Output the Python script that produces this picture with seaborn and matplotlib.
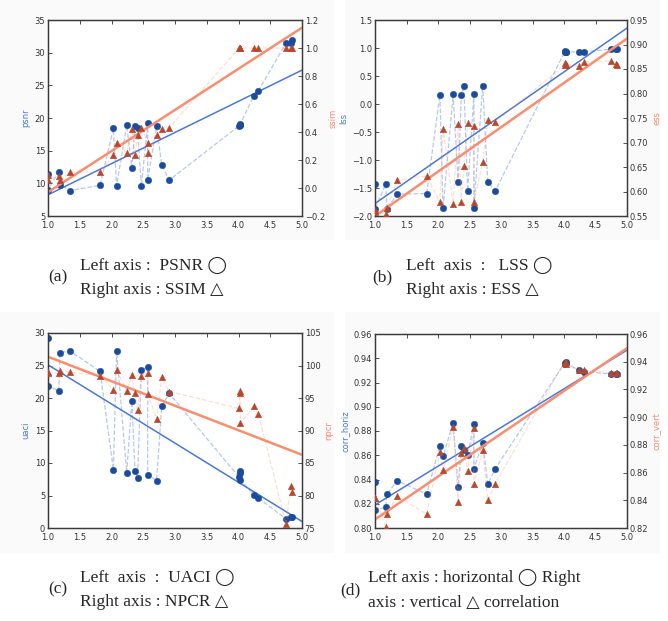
import matplotlib
matplotlib.use("Agg")
import matplotlib.pyplot as plt
import seaborn as sns
import pandas as pd
from matplotlib.patches import Rectangle

# ---------------- data ----------------
x_vals = [1.0, 1.0, 1.17, 1.19, 1.35, 1.82, 2.03, 2.08, 2.24, 2.32, 2.37, 2.41, 2.47,
          2.57, 2.57, 2.71, 2.79, 2.91, 4.01, 4.02, 4.03, 4.03, 4.24, 4.31, 4.75, 4.82, 4.84]

psnr = [11.4, 9.0, 11.8, 9.75, 8.9, 9.7, 18.4, 9.6, 18.9, 12.4, 18.7, 18.5, 9.55,
        19.2, 10.5, 18.7, 12.8, 10.5, 18.8, 19.0, 18.9, 19.1, 23.4, 24.1, 31.5, 31.5, 32.0]
ssim = [0.09, 0.06, 0.088, 0.057, 0.114, 0.114, 0.236, 0.324, 0.248, 0.424, 0.236, 0.379, 0.429,
        0.322, 0.248, 0.379, 0.424, 0.43, 1.0, 1.0, 1.0, 1.0, 1.0, 1.0, 1.0, 1.0, 1.0]

lss = [-1.43, -1.88, -1.43, -1.88, -1.61, -1.60, 0.16, -1.85, 0.17, -1.39, 0.16, 0.33, -1.55,
       0.18, -1.85, 0.33, -1.39, -1.55, 0.93, 0.94, 0.92, 0.93, 0.93, 0.93, 0.98, 0.98, 0.98]
ess = [0.562, 0.558, 0.555, 0.566, 0.623, 0.632, 0.578, 0.728, 0.575, 0.737, 0.579, 0.652, 0.739,
       0.734, 0.578, 0.661, 0.745, 0.742, 0.858, 0.863, 0.861, 0.858, 0.856, 0.865, 0.866, 0.860, 0.859]

uaci = [29.3, 21.9, 21.1, 27.0, 27.2, 24.1, 9.0, 27.2, 8.5, 19.5, 8.75, 7.7, 24.3,
        24.8, 8.2, 7.3, 18.7, 20.7, 7.8, 8.5, 8.8, 7.4, 5.1, 4.65, 1.4, 1.7, 1.7]
npcr = [99.0, 98.9, 98.8, 99.2, 99.0, 98.4, 96.3, 99.3, 96.1, 98.6, 95.7, 93.1, 98.4,
        98.9, 95.6, 91.8, 98.2, 96.0, 93.4, 95.7, 96.1, 91.1, 93.7, 92.6, 75.6, 81.5, 80.5]

corr_horiz = [0.838, 0.815, 0.817, 0.828, 0.839, 0.828, 0.868, 0.859, 0.887, 0.834, 0.868, 0.8645, 0.860,
              0.886, 0.849, 0.870, 0.836, 0.849, 0.936, 0.935, 0.937, 0.936, 0.930, 0.929, 0.927, 0.927, 0.927]
corr_vert = [0.842, 0.842, 0.821, 0.830, 0.843, 0.830, 0.875, 0.8615, 0.893, 0.839, 0.874, 0.878, 0.861,
             0.892, 0.852, 0.876, 0.840, 0.852, 0.940, 0.939, 0.940, 0.938, 0.934, 0.934, 0.932, 0.932, 0.932]

x_ticks = [1.0, 1.5, 2.0, 2.5, 3.0, 3.5, 4.0, 4.5, 5.0]

panels = [
    dict(left=psnr, right=ssim, lname="psnr", rname="ssim",
         lticks=[5, 10, 15, 20, 25, 30, 35], rticks=[-0.2, 0.0, 0.2, 0.4, 0.6, 0.8, 1.0, 1.2],
         lfmt="{:.0f}", rfmt="{:.1f}",
         tag="(a)", cap1="Left axis :  PSNR \u25EF", cap2="Right axis : SSIM \u25B3"),
    dict(left=lss, right=ess, lname="lss", rname="ess",
         lticks=[-2.0, -1.5, -1.0, -0.5, 0.0, 0.5, 1.0, 1.5],
         rticks=[0.55, 0.60, 0.65, 0.70, 0.75, 0.80, 0.85, 0.90, 0.95],
         lfmt="{:.1f}", rfmt="{:.2f}",
         tag="(b)", cap1="Left  axis  :   LSS \u25EF", cap2="Right axis : ESS \u25B3"),
    dict(left=uaci, right=npcr, lname="uaci", rname="npcr",
         lticks=[0, 5, 10, 15, 20, 25, 30], rticks=[75, 80, 85, 90, 95, 100, 105],
         lfmt="{:.0f}", rfmt="{:.0f}",
         tag="(c)", cap1="Left  axis  :  UACI \u25EF", cap2="Right axis : NPCR \u25B3"),
    dict(left=corr_horiz, right=corr_vert, lname="corr_horiz", rname="corr_vert",
         lticks=[0.80, 0.82, 0.84, 0.86, 0.88, 0.90, 0.92, 0.94, 0.96],
         rticks=[0.82, 0.84, 0.86, 0.88, 0.90, 0.92, 0.94, 0.96],
         lfmt="{:.2f}", rfmt="{:.2f}",
         tag="(d)", cap1="Left axis : horizontal \u25EF Right", cap2="axis : vertical \u25B3 correlation"),
]

# ---------------- style ----------------
sns.set_theme(style="white")
plt.rcParams['font.family'] = ['DejaVu Sans']

W, H = 668, 621
fig = plt.figure(figsize=(W / 100, H / 100), dpi=100)
fig.patch.set_facecolor("white")

# axes boxes in pixels: left, top, right, bottom
boxes = [(48, 20, 302, 216), (375, 20, 627, 216), (48, 333, 302, 528), (375, 334, 627, 528)]
bg_boxes = [(0, 0, 334, 240), (345, 0, 660, 240), (0, 312, 334, 553), (345, 312, 660, 553)]
caption_pos = [(48, 80), (372, 406), (48, 80), (340, 368)]
caption_y = [(265, 290), (265, 290), (577, 602), (577, 603)]

BLUE_LINE = "#4a78d4"
SALMON_LINE = "#f98d70"
BLUE_PT = "#1a4b9c"
RED_PT = "#b8472d"
SPINE = "#3a3a3a"
SERIF = ["Liberation Serif", "DejaVu Sans"]

for p, box, bg, cpos, cy in zip(panels, boxes, bg_boxes, caption_pos, caption_y):
    # light panel background
    fig.patches.append(Rectangle((bg[0] / W, 1 - bg[3] / H), (bg[2] - bg[0]) / W, (bg[3] - bg[1]) / H,
                                 transform=fig.transFigure, facecolor="#fafafb", edgecolor="none",
                                 zorder=-5))
    l, t, r, b = box
    ax = fig.add_axes([l / W, 1 - b / H, (r - l) / W, (b - t) / H])
    ax.set_facecolor("white")
    ax2 = ax.twinx()

    df = pd.DataFrame({"x": x_vals, "left": p["left"], "right": p["right"]})

    ax.set_xlim(1.0, 5.0)
    ax.set_ylim(p["lticks"][0], p["lticks"][-1])
    ax2.set_ylim(p["rticks"][0], p["rticks"][-1])

    # dashed connecting lines
    sns.lineplot(data=df, x="x", y="left", ax=ax, sort=False, estimator=None,
                 color=BLUE_LINE, linestyle="--", linewidth=0.9, alpha=0.4)
    sns.lineplot(data=df, x="x", y="right", ax=ax2, sort=False, estimator=None,
                 color=SALMON_LINE, linestyle="--", linewidth=0.9, alpha=0.28)
    # regression lines
    sns.regplot(data=df, x="x", y="left", ax=ax, scatter=False, ci=None, truncate=False,
                line_kws=dict(color=BLUE_LINE, linewidth=1.1))
    sns.regplot(data=df, x="x", y="right", ax=ax2, scatter=False, ci=None, truncate=False,
                line_kws=dict(color=SALMON_LINE, linewidth=1.8))
    # markers
    sns.scatterplot(data=df, x="x", y="left", ax=ax, color=BLUE_PT, marker="o", s=22,
                    edgecolor=BLUE_PT, linewidth=0.3, zorder=5)
    sns.scatterplot(data=df, x="x", y="right", ax=ax2, color=RED_PT, marker="^", s=22,
                    edgecolor=RED_PT, linewidth=0.3, zorder=5)

    ax.set_xlim(1.0, 5.0)
    ax.set_ylim(p["lticks"][0], p["lticks"][-1])
    ax2.set_ylim(p["rticks"][0], p["rticks"][-1])

    ax.set_xticks(x_ticks)
    ax.set_xticklabels([f"{v:.1f}" for v in x_ticks])
    ax.set_yticks(p["lticks"])
    ax.set_yticklabels([p["lfmt"].format(v).replace("-", "\u2212") for v in p["lticks"]])
    ax2.set_yticks(p["rticks"])
    ax2.set_yticklabels([p["rfmt"].format(v).replace("-", "\u2212") for v in p["rticks"]])

    ax.set_xlabel("")
    ax.set_ylabel(p["lname"], color=BLUE_LINE, fontsize=6, labelpad=3)
    ax2.set_ylabel(p["rname"], color=SALMON_LINE, fontsize=6, labelpad=3)

    for a in (ax, ax2):
        for s in a.spines.values():
            s.set_color(SPINE)
            s.set_linewidth(0.9)
        a.tick_params(labelsize=6, colors="#333333", length=3, width=0.6, direction="in", pad=2)
    ax.tick_params(axis="x", top=True, pad=3.5)
    ax.tick_params(axis="y", left=True, right=False)
    ax2.tick_params(axis="y", right=True, left=False)

    # captions
    tx, cx = cpos
    fig.text(tx / W, 1 - ((cy[0] + cy[1]) / 2) / H, p["tag"], fontsize=12.5,
             family=SERIF, va="center", ha="left")
    fig.text(cx / W, 1 - cy[0] / H, p["cap1"], fontsize=12.5,
             family=SERIF, va="center", ha="left")
    fig.text(cx / W, 1 - cy[1] / H, p["cap2"], fontsize=12.5,
             family=SERIF, va="center", ha="left")

fig.savefig("out.png", dpi=100)
